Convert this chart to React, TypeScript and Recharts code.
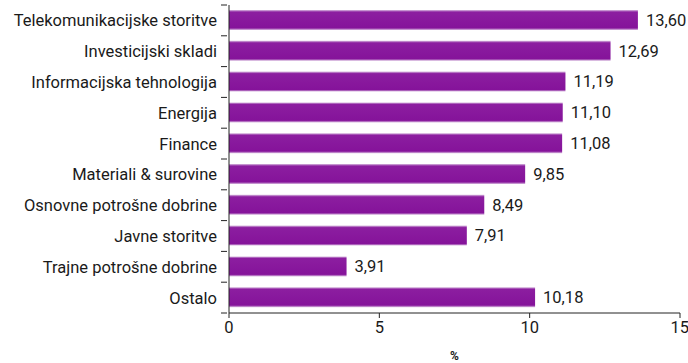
import React from "react";
import { BarChart, Bar, XAxis, YAxis, LabelList } from "recharts";

const sectors = [
  "Telekomunikacijske storitve",
  "Investicijski skladi",
  "Informacijska tehnologija",
  "Energija",
  "Finance",
  "Materiali & surovine",
  "Osnovne potrošne dobrine",
  "Javne storitve",
  "Trajne potrošne dobrine",
  "Ostalo",
];
const shares = [13.6, 12.69, 11.19, 11.1, 11.08, 9.85, 8.49, 7.91, 3.91, 10.18];
const xTicks = [0, 5, 10, 15];

const data = sectors.map((name, i) => ({ name, value: shares[i] }));

const FONT = "Roboto, 'DejaVu Sans', sans-serif";
const SIZE = 16.5;
const BAND = 30.8;

function CategoryTick(props: any) {
  const { x, y, payload, index } = props;
  const axisX = x + 6;
  return (
    <g>
      <line x1={axisX - 6} y1={y - BAND / 2} x2={axisX} y2={y - BAND / 2} stroke="#222" />
      {index === sectors.length - 1 && (
        <line x1={axisX - 6} y1={y + BAND / 2} x2={axisX} y2={y + BAND / 2} stroke="#222" />
      )}
      <text
        x={axisX - 10}
        y={y}
        dy={6}
        textAnchor="end"
        fill="#1a1a1a"
        fontSize={SIZE}
        fontFamily={FONT}
      >
        {payload.value}
      </text>
    </g>
  );
}

export default function App() {
  return (
    <div style={{ position: "absolute", left: 0, top: 0 }}>
      <BarChart
        width={688}
        height={363}
        data={data}
        layout="vertical"
        margin={{ top: 5, right: 8, left: 0, bottom: 0 }}
      >
        <defs>
          <linearGradient id="barFill" x1="0" y1="0" x2="0" y2="1">
            <stop offset="0" stopColor="#d9bce0" />
            <stop offset="0.1" stopColor="#8c1ea0" />
            <stop offset="0.9" stopColor="#85139a" />
            <stop offset="1" stopColor="#d9bce0" />
          </linearGradient>
        </defs>
        <XAxis
          type="number"
          domain={[0, 15]}
          ticks={xTicks}
          height={50}
          stroke="#222"
          tickSize={5}
          tick={{ fill: "#1a1a1a", fontSize: SIZE, fontFamily: FONT }}
          tickMargin={3}
          label={{
            value: "%",
            position: "insideBottom",
            offset: 3,
            fill: "#1a1a1a",
            fontSize: 12,
            fontWeight: "bold",
            fontFamily: FONT,
          }}
        />
        <YAxis
          type="category"
          dataKey="name"
          width={229}
          stroke="#222"
          tickLine={false}
          tick={<CategoryTick />}
          interval={0}
        />
        <Bar dataKey="value" fill="url(#barFill)" barSize={20} isAnimationActive={false}>
          <LabelList
            dataKey="value"
            position="right"
            offset={8}
            fill="#1a1a1a"
            fontSize={SIZE}
            fontFamily={FONT}
            formatter={(v: any) => Number(v).toFixed(2).replace(".", ",")}
          />
        </Bar>
      </BarChart>
    </div>
  );
}
